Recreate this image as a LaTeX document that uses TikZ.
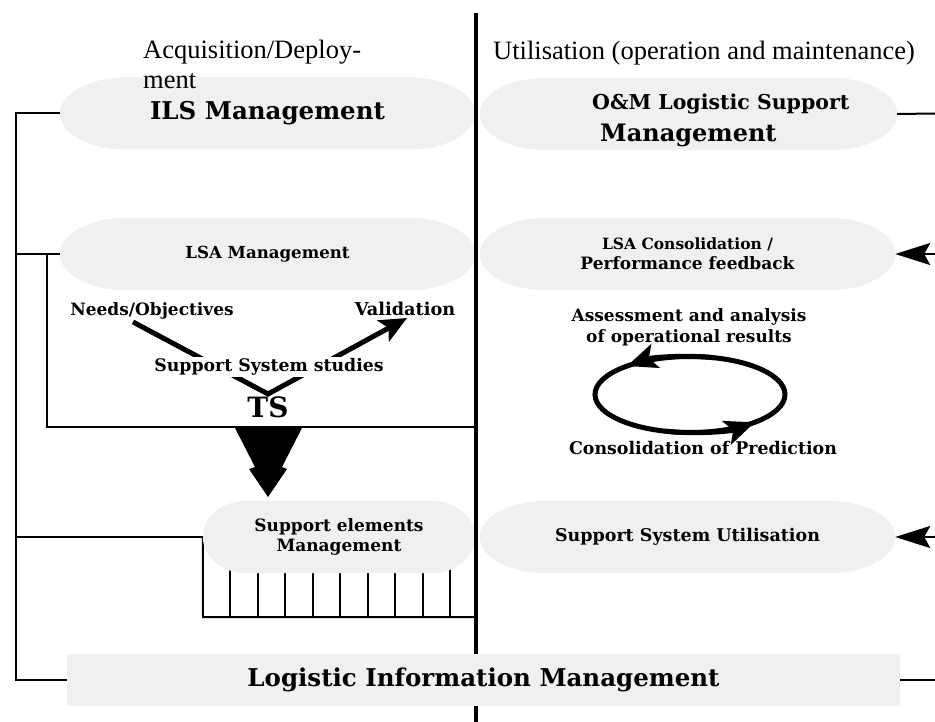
\documentclass[tikz,border=0pt]{standalone}
\usepackage{fontspec}
\setmainfont{Liberation Serif}
\newfontfamily\bfam{DejaVu Serif}
\usetikzlibrary{arrows.meta,calc}
\definecolor{pillgray}{RGB}{239,240,242}
\pgfdeclarelayer{back}\pgfdeclarelayer{bg}\pgfsetlayers{back,bg,main}
\newcommand\pillbg[1]{\fill[pillgray] let \p1=(#1.north west), \p2=(#1.south east), \n1={0.16*(\x2-\x1)}, \n2={0.5*(\y1-\y2)} in (\x1+\n1,\y1) -- (\x2-\n1,\y1) arc[start angle=90,end angle=-90,x radius=\n1,y radius=\n2] -- (\x1+\n1,\y2) arc[start angle=270,end angle=90,x radius=\n1,y radius=\n2] -- cycle;}
\newcommand\bsz[2]{\fontsize{#1}{#2}\selectfont}
\tikzset{
  pill/.style={rectangle, inner sep=0pt, minimum height=72pt, align=center},
  lbl/.style={font=\bfam\bfseries\bsz{17}{20}, align=center, inner sep=0pt},
  biglbl/.style={font=\bfam\bfseries\bsz{24.5}{31}, align=center, inner sep=0pt},
  reglbl/.style={font=\bsz{26.5}{30}, inner sep=0pt},
  conn/.style={line width=2pt},
  rarrow/.style={-{Stealth[length=35pt,width=22pt,inset=6pt]}},
  loophead/.style={-{Stealth[length=30pt,width=25pt,inset=7pt]}},
}
\begin{document}
\begin{tikzpicture}[x=1pt,y=-1pt]
\useasboundingbox (0,0) rectangle (935,722);
% divider
\coordinate (divtop) at (476,13);
\coordinate (divbot) at (476,722);
\draw[line width=4.5pt] (divtop) -- (divbot);

% headings
\node[reglbl, anchor=base west] (acq1) at (143,58.5) {Acquisition/Deploy-};
\node[reglbl, anchor=base west] (acq2) at (143,88.5) {ment};
\node[reglbl, anchor=base west] (util) at (493,60) {Utilisation (operation and maintenance)};

% pills (left)
\node[pill, biglbl, minimum width=415pt] (ils) at (267.5,113.5) {ILS Management};
\node[pill, lbl, font=\bfam\bfseries\bsz{16.6}{20}, minimum width=415pt] (lsa) at (267.5,254) {LSA Management};
\node[pill, lbl, font=\bfam\bfseries\bsz{17}{19.5}, minimum width=272pt] (sem) at (339,537) {Support elements\\Management};
% pills (right)
\node[pill, minimum width=417pt] (om) at (688.5,114) {};
\node[biglbl, font=\bfam\bfseries\bsz{20.5}{31}, anchor=base west] (om1) at (592,110) {O\&M Logistic Support};
\node[biglbl, font=\bfam\bfseries\bsz{24}{31}, anchor=base west] (om2) at (600,142) {Management};
\node[pill, lbl, minimum width=415pt] (lsac) at (687.5,254) {{\bsz{15.5}{20}LSA Consolidation /}\\Performance feedback};
\node[pill, lbl, font=\bfam\bfseries\bsz{17.5}{20}, minimum width=415pt] (ssu) at (687.5,537) {Support System Utilisation};

\begin{pgfonlayer}{bg}
\pillbg{ils}\pillbg{lsa}\pillbg{sem}\pillbg{om}\pillbg{lsac}\pillbg{ssu}
\end{pgfonlayer}

% logistic information management
\node[rectangle, fill=pillgray, minimum width=833pt, minimum height=52pt, biglbl] (lim) at (483.5,680) {Logistic Information Management};

% left connectors
\coordinate (lt) at (16,113.5);
\draw[conn] (ils.west) -- (lt) |- (lim.west);
\draw[conn] (lsa.west) -- (lsa.west -| lt);
\draw[conn] (sem.west) -- (sem.west -| lt);
\coordinate (bka) at (47,254);
\coordinate (bkb) at (47,427);
\coordinate (bkc) at (476,427);
\draw[conn] (bka) -- (bkb) -- (bkc);

% comb under support elements
\begin{pgfonlayer}{back}
\coordinate (cmbl) at (203,617);
\coordinate (cmbr) at (476,617);
\draw[conn] (sem.west) -- (cmbl) -- (cmbr);
\foreach \x in {230,257.5,...,451} \draw[conn] (\x,569) -- (\x,617);
\end{pgfonlayer}

% right connectors
\coordinate (rt1) at (935,113.5);
\coordinate (rt2) at (935,254);
\coordinate (rt3) at (935,537);
\coordinate (rt4) at (935,680);
\draw[conn] (om.east) -- (rt1);
\draw[conn, rarrow] (rt2) -- (lsac.east);
\draw[conn, rarrow] (rt3) -- (ssu.east);
\draw[conn] (lim.east) -- (rt4);

% V diagram
\coordinate (vl) at (133,322);
\coordinate (vb) at (268,394);
\coordinate (vr) at (407,318);
\draw[line width=5pt, -{Stealth[length=27pt,width=24pt,inset=6pt]}] (vl) -- (vb) -- (vr);
\node[lbl] (needs) at (152,311) {Needs/Objectives};
\node[lbl, font=\bfam\bfseries\bsz{17.7}{20}] (valid) at (405,309) {Validation};
\node[lbl, font=\bfam\bfseries\bsz{17.3}{20}, fill=white, inner sep=1.5pt] (sss) at (269,367) {Support System studies};
\node[lbl, font=\bfam\bfseries\bsz{28}{30}] (ts) at (268,407) {TS};

% big down arrow
\fill (235,428) -- (302,428) -- (282,467) -- (287,469) -- (268,497) -- (249,469) -- (255,467) -- cycle;

% cycle
\coordinate (cyc) at (690,394.5);
\draw[line width=5pt] (cyc) ellipse [x radius=95, y radius=38];
\draw[line width=5pt, loophead] (cyc) ++(-75:95 and 38) arc[start angle=-75, end angle=-131.5, x radius=95, y radius=38];
\draw[line width=5pt, loophead] (cyc) ++(105:95 and 38) arc[start angle=105, end angle=47, x radius=95, y radius=38];
\node[lbl, font=\bfam\bfseries\bsz{17}{21}] (assess) at (689,327.5) {Assessment and analysis\\of operational results};
\node[lbl, font=\bfam\bfseries\bsz{17.4}{20}] (cons) at (703,448) {Consolidation of Prediction};
\end{tikzpicture}
\end{document}
